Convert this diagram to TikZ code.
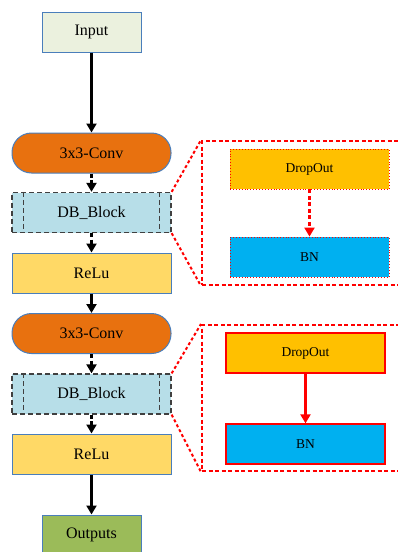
\documentclass[tikz,border=0pt]{standalone}
\usepackage{fontspec}
\setmainfont{Liberation Serif}
\usetikzlibrary{arrows.meta}
\definecolor{bord}{HTML}{4A7EBB}
\definecolor{cin}{HTML}{EBF1DE}
\definecolor{cconv}{HTML}{E8710F}
\definecolor{cdb}{HTML}{B7DEE8}
\definecolor{crelu}{HTML}{FFD966}
\definecolor{cout}{HTML}{9BBB59}
\definecolor{cdrop}{HTML}{FFC000}
\definecolor{cbn}{HTML}{00B0F0}
\definecolor{cdash}{HTML}{404040}
\definecolor{cred}{HTML}{FF0000}
\tikzset{
  basebox/.style={draw=bord, line width=1pt, minimum width=159pt, minimum height=40pt, inner sep=0pt, font=\fontsize{16}{18}\selectfont},
  smallbox/.style={basebox, minimum width=99pt},
  convbox/.style={basebox, fill=cconv, rounded corners=19.5pt},
  dbbox/.style={basebox, draw=cdash, fill=cdb, dash pattern=on 5pt off 3pt, line width=1.3pt},
  dbline/.style={draw=cdash, dash pattern=on 5pt off 3pt, line width=1.3pt},
  relubox/.style={basebox, fill=crelu},
  panelbox/.style={draw=cred, line width=2pt, dash pattern=on 4pt off 2.5pt, minimum width=208pt, inner sep=0pt},
  innerdot/.style={basebox, draw=cred, line width=0.9pt, dotted, font=\fontsize{13.5}{15}\selectfont},
  innersol/.style={basebox, draw=cred, line width=1.3pt, font=\fontsize{13.5}{15}\selectfont},
  arr/.style={-{Triangle[width=10pt,length=9pt]}, line width=2.2pt, black},
  darr/.style={arr, dash pattern=on 4pt off 2.5pt},
  zoomline/.style={draw=cred, line width=2pt, dash pattern=on 3pt off 2.5pt},
  redarr/.style={-{Triangle[width=10pt,length=9pt]}, cred, line width=2.2pt},
}
\begin{document}
\begin{tikzpicture}[x=1pt,y=-1pt]
\clip (0,0) rectangle (398,552);
\path[use as bounding box] (0,0) rectangle (398,552);
% main column
\node[smallbox, fill=cin] (in) at (91.5,32) {Input};
\node[convbox] (conv1) at (91.5,153) {3x3-Conv};
\node[dbbox] (db1) at (91.5,212.5) {DB\_Block};
\node[relubox] (relu1) at (91.5,273) {ReLu};
\node[convbox] (conv2) at (91.5,333.5) {3x3-Conv};
\node[dbbox] (db2) at (91.5,394) {DB\_Block};
\node[relubox] (relu2) at (91.5,454) {ReLu};
\node[smallbox, fill=cout] (out) at (91.5,535) {Outputs};
\draw[dbline] ([xshift=12pt]db1.north west) -- ([xshift=12pt]db1.south west);
\draw[dbline] ([xshift=-12pt]db1.north east) -- ([xshift=-12pt]db1.south east);
\draw[dbline] ([xshift=12pt]db2.north west) -- ([xshift=12pt]db2.south west);
\draw[dbline] ([xshift=-12pt]db2.north east) -- ([xshift=-12pt]db2.south east);
% arrows
\draw[arr] (in) -- (conv1);
\draw[darr] (conv1) -- (db1);
\draw[darr] (db1) -- (relu1);
\draw[arr] (relu1) -- (conv2);
\draw[darr] (conv2) -- (db2);
\draw[darr] (db2) -- (relu2);
\draw[arr] (relu2) -- (out);
% panels
\node[panelbox, minimum height=144pt] (p1) at (306,213) {};
\node[panelbox, minimum height=146pt] (p2) at (306,398) {};
\draw[zoomline] (db1.north east) -- (p1.north west);
\draw[zoomline] (db1.south east) -- (p1.south west);
\draw[zoomline] (db2.north east) -- (p2.north west);
\draw[zoomline] (db2.south east) -- (p2.south west);
\node[innerdot, fill=cdrop] (do1) at (309.5,169) {DropOut};
\node[innerdot, fill=cbn] (bn1) at (309.5,257) {BN};
\draw[redarr, dash pattern=on 4pt off 2.5pt] (do1) -- (bn1);
\node[innersol, fill=cdrop] (do2) at (305.5,353) {DropOut};
\node[innersol, fill=cbn] (bn2) at (305.5,444) {BN};
\draw[redarr] (do2) -- (bn2);
\end{tikzpicture}
\end{document}
